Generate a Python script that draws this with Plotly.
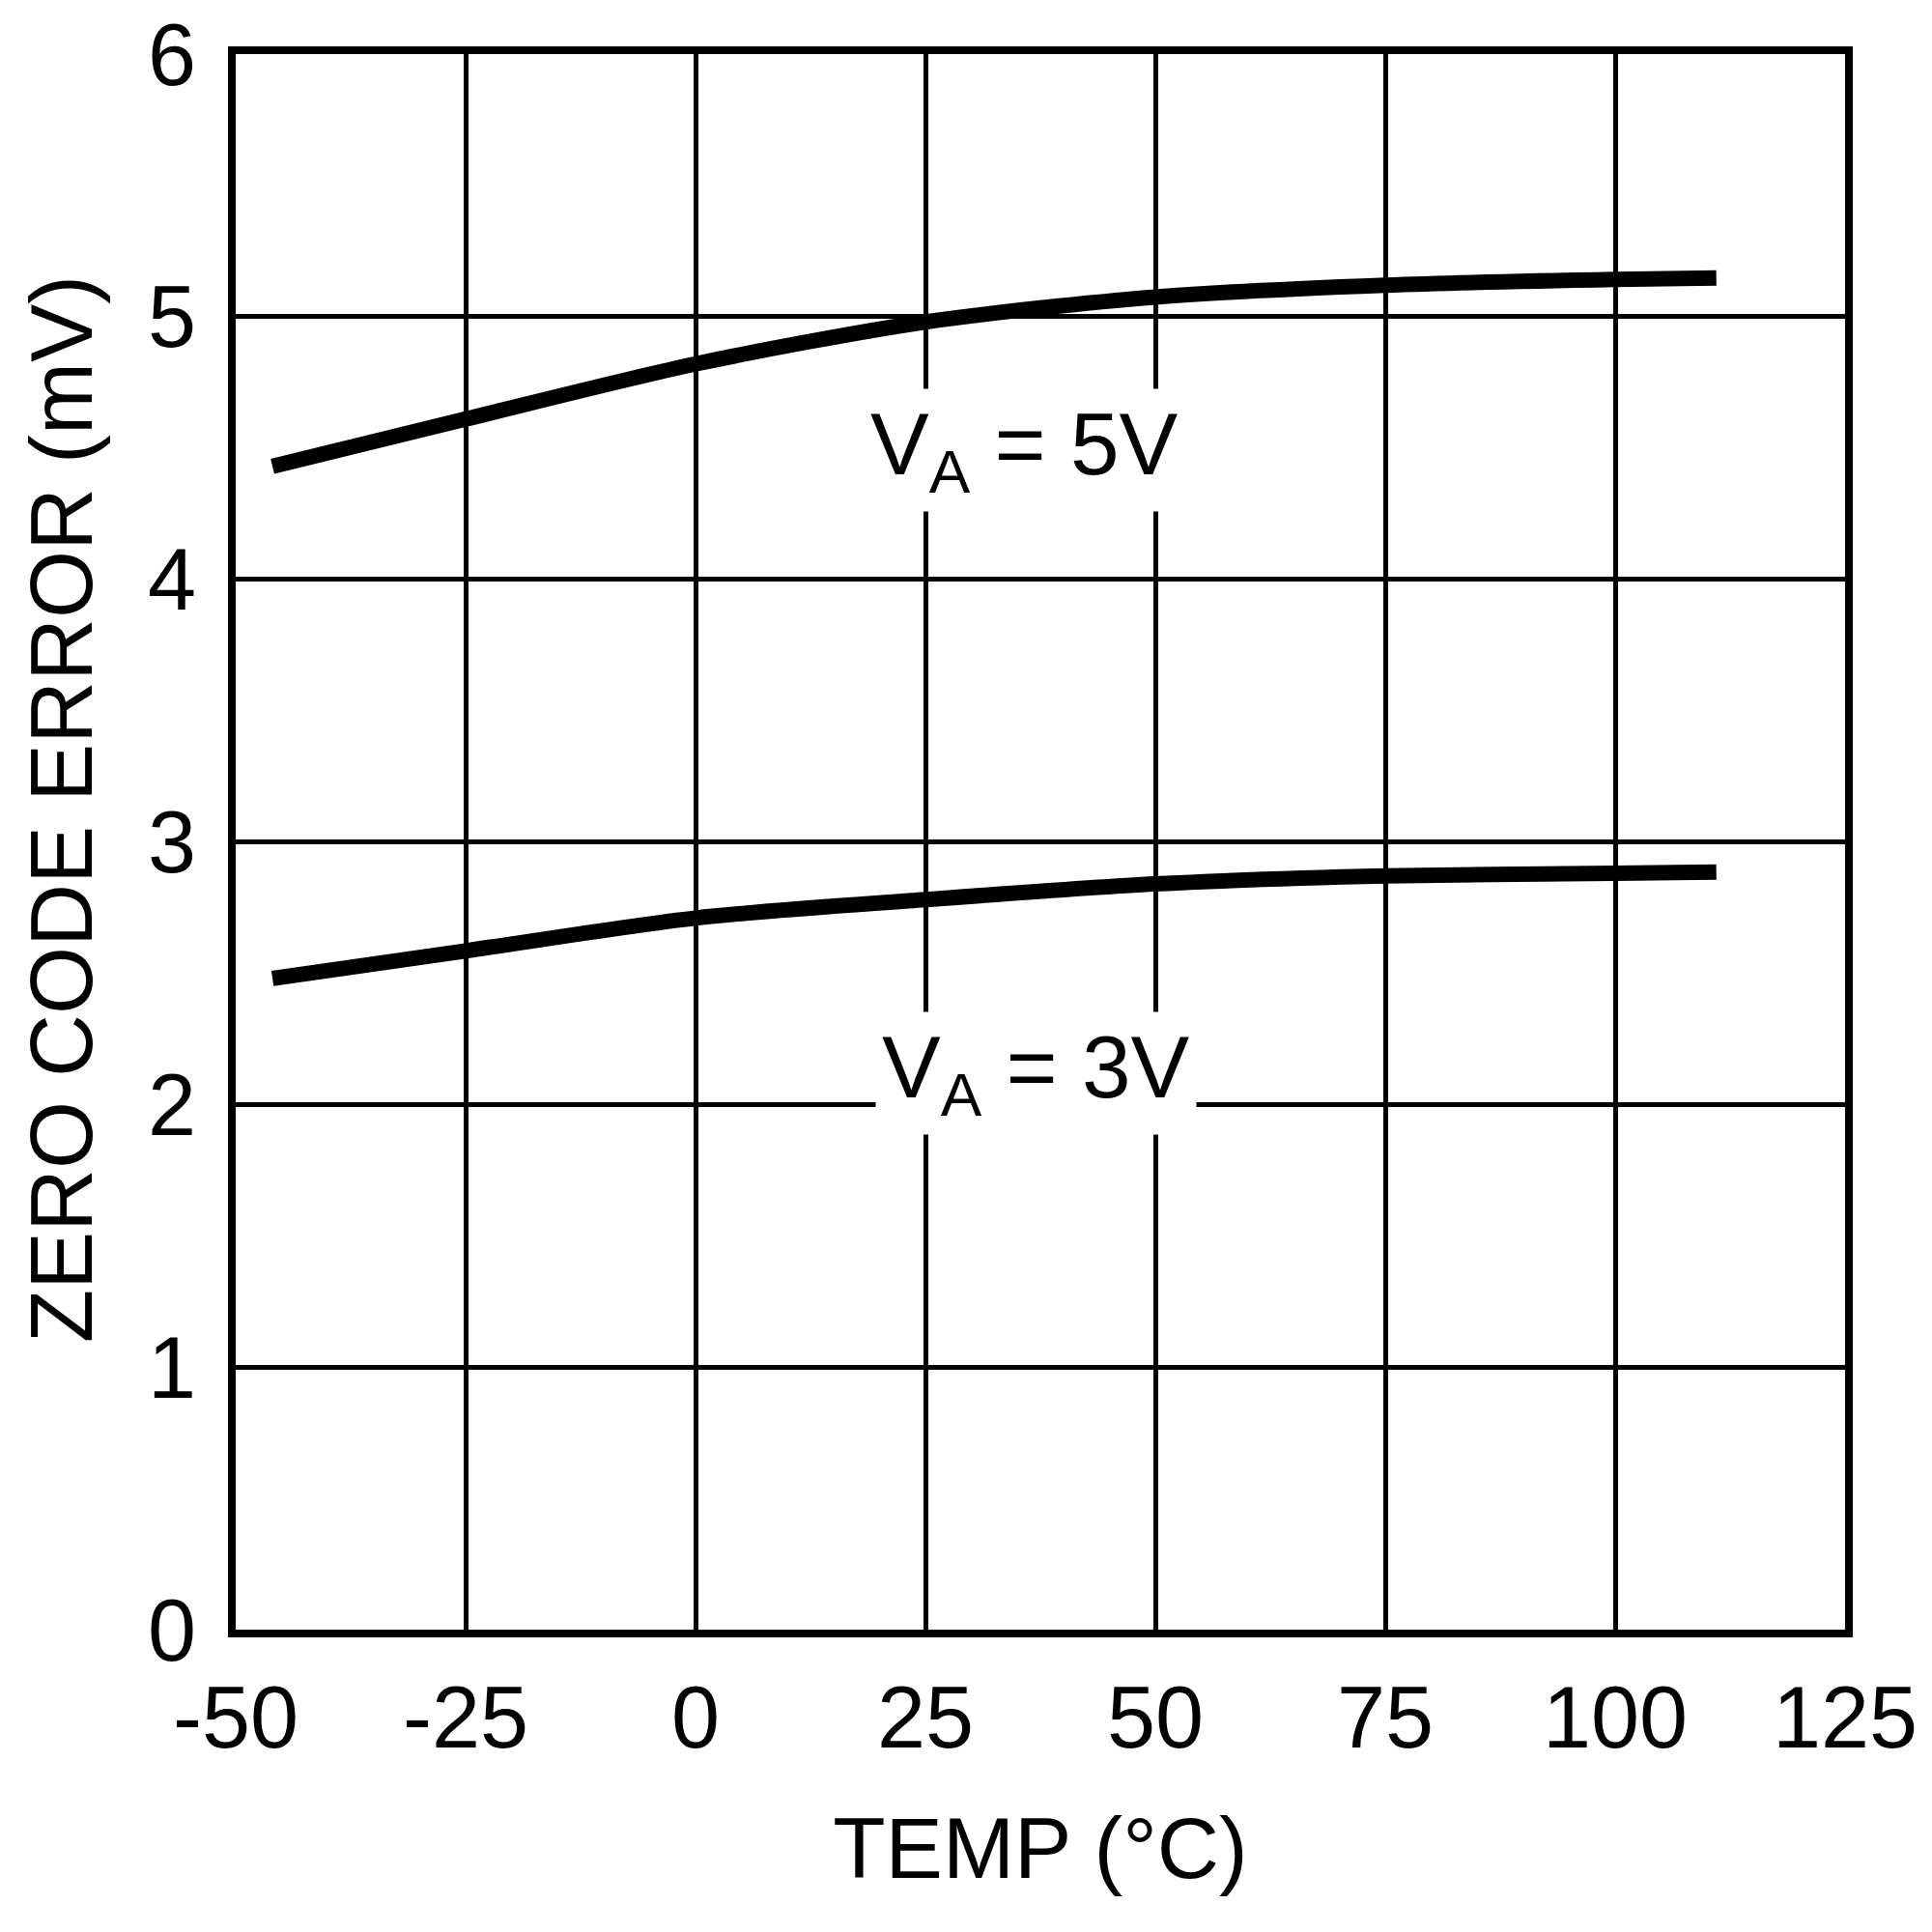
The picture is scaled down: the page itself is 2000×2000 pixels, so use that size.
import plotly.graph_objects as go

temp = [-46, -25, 0, 25, 50, 75, 100, 111]
err_5v = [4.43, 4.61, 4.82, 4.98, 5.075, 5.12, 5.142, 5.147]
err_3v = [2.48, 2.585, 2.71, 2.78, 2.84, 2.87, 2.88, 2.885]

x_ticks = [-50, -25, 0, 25, 50, 75, 100, 125]
y_ticks = [0, 1, 2, 3, 4, 5, 6]

FONT = "Liberation Sans, Arial, sans-serif"

fig = go.Figure()
for ys in (err_5v, err_3v):
    fig.add_trace(go.Scatter(x=temp, y=ys, mode="lines",
                             line=dict(color="black", width=16, shape="spline", smoothing=0.8),
                             showlegend=False, hoverinfo="skip"))

fig.add_annotation(x=35.8, y=4.49, xref="x", yref="y",
                   text="V<sub>A</sub> = 5V", showarrow=False,
                   bgcolor="white", borderpad=6,
                   font=dict(family=FONT, size=91, color="black"))
fig.add_annotation(x=37.0, y=2.12, xref="x", yref="y",
                   text="V<sub>A</sub> = 3V", showarrow=False,
                   bgcolor="white", borderpad=6,
                   font=dict(family=FONT, size=91, color="black"))

# y-axis title (placed slightly above the plot centre, as in the reference)
fig.add_annotation(x=-0.108, y=0.5206, xref="paper", yref="paper",
                   text="ZERO CODE ERROR (mV)", textangle=-90, showarrow=False,
                   xanchor="center", yanchor="middle",
                   font=dict(family=FONT, size=90, color="black"))

axis_common = dict(showgrid=True, gridcolor="black", gridwidth=5,
                   showline=True, linecolor="black", linewidth=8, mirror=True,
                   zeroline=False, ticks="", ticklabeloverflow="allow",
                   automargin=False,
                   tickfont=dict(family=FONT, size=90, color="black"))

fig.update_xaxes(range=[-50, 125], tickvals=x_ticks,
                 ticktext=[str(v) for v in x_ticks],
                 ticklabelstandoff=6,
                 title=dict(text="TEMP (°C)", standoff=58,
                            font=dict(family=FONT, size=89, color="black")),
                 **axis_common)
fig.update_yaxes(range=[0, 6], tickvals=y_ticks,
                 ticktext=[str(v) for v in y_ticks],
                 ticklabelstandoff=15,
                 **axis_common)

fig.update_layout(width=2000, height=2000,
                  margin=dict(l=236, r=98, t=48, b=321, autoexpand=False),
                  plot_bgcolor="white", paper_bgcolor="white")

fig.write_html("out.html")
